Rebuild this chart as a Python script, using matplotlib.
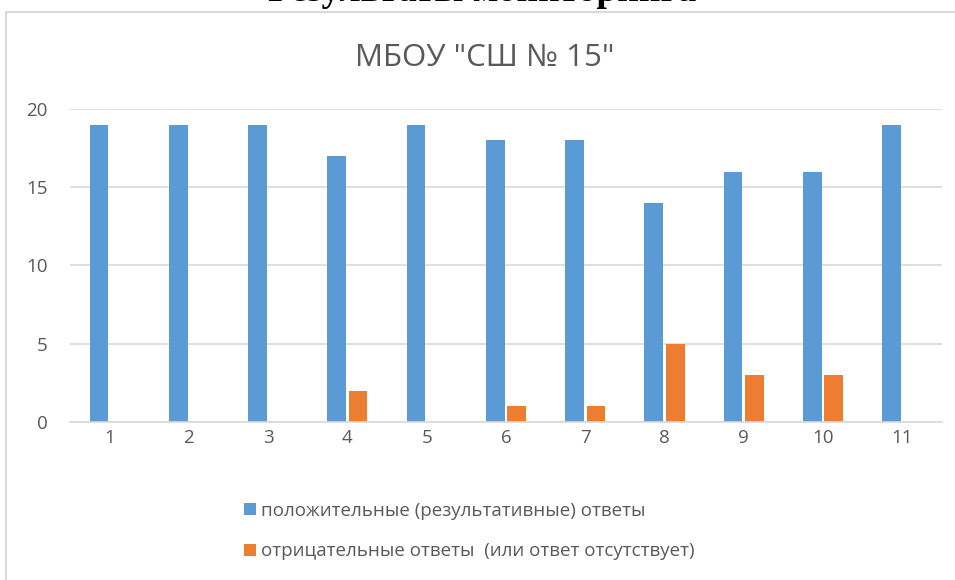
import matplotlib.pyplot as plt
from matplotlib.patches import Rectangle
import numpy as np

plt.rcParams['font.family'] = ['Open Sans', 'DejaVu Sans']

categories = ['1', '2', '3', '4', '5', '6', '7', '8', '9', '10', '11']
positive = [19, 19, 19, 17, 19, 18, 18, 14, 16, 16, 19]
negative = [0, 0, 0, 2, 0, 1, 1, 5, 3, 3, 0]
label_pos = 'положительные (результативные) ответы'
label_neg = 'отрицательные ответы  (или ответ отсутствует)'
chart_title = 'МБОУ "СШ № 15"'
page_heading = 'Результаты мониторинга'

blue = '#5B9BD5'
orange = '#ED7D31'
text_color = '#595959'

fig = plt.figure(figsize=(9.55, 5.8), dpi=100)
ax = fig.add_axes([0.0733, 0.2724, 0.913, 0.5397])

x = np.arange(len(categories))
w = 0.235
b1 = ax.bar(x - 0.135, positive, w, color=blue, label=label_pos)
b2 = ax.bar(x + 0.135, negative, w, color=orange, label=label_neg)

ax.set_xlim(-0.5, len(categories) - 0.5)
ax.set_ylim(0, 20)
ax.set_yticks([0, 5, 10, 15, 20])
ax.set_xticks(x)
ax.set_xticklabels(categories)
ax.tick_params(length=0, labelsize=13.5, colors=text_color, pad=5)
ax.tick_params(axis='y', pad=16)
ax.grid(axis='y', color='#D9D9D9', linewidth=1.2)
ax.set_axisbelow(True)
for s in ['top', 'right', 'left']:
    ax.spines[s].set_visible(False)
ax.spines['bottom'].set_color('#D9D9D9')
ax.spines['bottom'].set_linewidth(1.2)

# рамка диаграммы
fig.patches.append(Rectangle((0.006, -0.05), 1.1, 1.03, transform=fig.transFigure,
                             fill=False, edgecolor='#D9D9D9', linewidth=1.5))

fig.text(0.508, 0.9, chart_title, ha='center', va='center',
         fontsize=22.5, color=text_color)
fig.text(0.505, 0.998, page_heading, ha='center', va='baseline',
         fontsize=27, fontweight='bold', family='Liberation Serif', color='black')

leg = fig.legend(handles=[b1, b2], loc='upper left', bbox_to_anchor=(0.248, 0.148),
                 ncol=1, frameon=False, fontsize=13.5, labelcolor=text_color,
                 handlelength=0.6, handleheight=0.6, handletextpad=0.3,
                 labelspacing=1.2, borderaxespad=0)

fig.savefig('out.png', dpi=100)
